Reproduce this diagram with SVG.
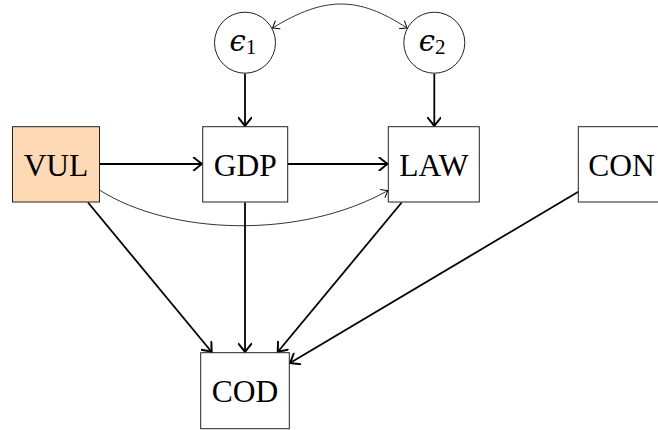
<svg xmlns="http://www.w3.org/2000/svg" width="658" height="430" viewBox="0 0 658 430">
<style>
.box{fill:#fff;stroke:#222;stroke-width:1}
.lbl{font-family:"Liberation Serif","Times New Roman",serif;font-size:31.5px;fill:#000;text-anchor:middle}
.eps{font-family:"DejaVu Serif","Liberation Serif",serif;font-size:29px;font-style:italic;fill:#000}
.sub{font-family:"Liberation Serif","Times New Roman",serif;font-size:21px;font-style:normal;fill:#000}
.thick{fill:none;stroke:#000;stroke-width:1.8}
.thin{fill:none;stroke:#000;stroke-width:0.8}
</style>
<defs>
<marker id="ah" markerUnits="userSpaceOnUse" markerWidth="14" markerHeight="14" viewBox="-8 -6 10 12" refX="0" refY="0" orient="auto">
<path d="M-7,-5.5 Q-1.5,-1 0,0 Q-1.5,1 -7,5.5" fill="none" stroke="#000" stroke-width="1.7" stroke-linecap="round"/>
</marker>
<marker id="ahs" markerUnits="userSpaceOnUse" markerWidth="12" markerHeight="12" viewBox="-7 -5 8 10" refX="0" refY="0" orient="auto">
<path d="M-5,-3.8 Q-1.2,-0.8 0,0 Q-1.2,0.8 -5,3.8" fill="none" stroke="#000" stroke-width="0.8" stroke-linecap="round"/>
</marker>
<marker id="ahsr" markerUnits="userSpaceOnUse" markerWidth="12" markerHeight="12" viewBox="-1 -5 8 10" refX="0" refY="0" orient="auto">
<path d="M5,-3.8 Q1.2,-0.8 0,0 Q1.2,0.8 5,3.8" fill="none" stroke="#000" stroke-width="0.8" stroke-linecap="round"/>
</marker>
</defs>
<g id="connectors">
<path class="thin" d="M272.5,28 C325,-4 358,-4 407,28" marker-start="url(#ahsr)" marker-end="url(#ahs)"/>
<path class="thick" d="M245,73.5 V126" marker-end="url(#ah)"/>
<path class="thick" d="M434.3,73.5 V126" marker-end="url(#ah)"/>
<path class="thick" d="M99.5,164 H202" marker-end="url(#ah)"/>
<path class="thick" d="M287.7,164 H387.6" marker-end="url(#ah)"/>
<path class="thin" d="M99.5,190 C170,235 300,240 388,190.5" marker-end="url(#ahs)"/>
<path class="thick" d="M88,202.5 L211.7,352" marker-end="url(#ah)"/>
<path class="thick" d="M245,202.5 V352" marker-end="url(#ah)"/>
<path class="thick" d="M401.7,202.5 L277.7,352" marker-end="url(#ah)"/>
<path class="thick" d="M578.3,191.7 L290,363" marker-end="url(#ah)"/>
</g>
<g id="eps1">
<circle cx="245" cy="42.7" r="30.5" fill="#fff" stroke="#222" stroke-width="1"/>
<text class="eps" x="229.5" y="51">ϵ<tspan class="sub" dy="3">1</tspan></text>
</g>
<g id="eps2">
<circle cx="434.3" cy="42.7" r="30.5" fill="#fff" stroke="#222" stroke-width="1"/>
<text class="eps" x="418.8" y="51">ϵ<tspan class="sub" dy="3">2</tspan></text>
</g>
<g id="VUL">
<rect x="12.5" y="126.7" width="87" height="75.3" fill="#fdd9b5" stroke="#222" stroke-width="1"/>
<text class="lbl" x="56" y="175.5">VUL</text>
</g>
<g id="GDP">
<rect class="box" x="202.7" y="126.7" width="85" height="75.3"/>
<text class="lbl" x="245.2" y="175.5">GDP</text>
</g>
<g id="LAW">
<rect class="box" x="388.3" y="126.7" width="91" height="75.3"/>
<text class="lbl" x="433.8" y="175.5">LAW</text>
</g>
<g id="CON">
<rect class="box" x="578.3" y="126.7" width="87" height="75.3"/>
<text class="lbl" x="621.5" y="175.5">CON</text>
</g>
<g id="COD">
<rect class="box" x="200.7" y="352.7" width="88.6" height="76"/>
<text class="lbl" x="245" y="402">COD</text>
</g>
</svg>
